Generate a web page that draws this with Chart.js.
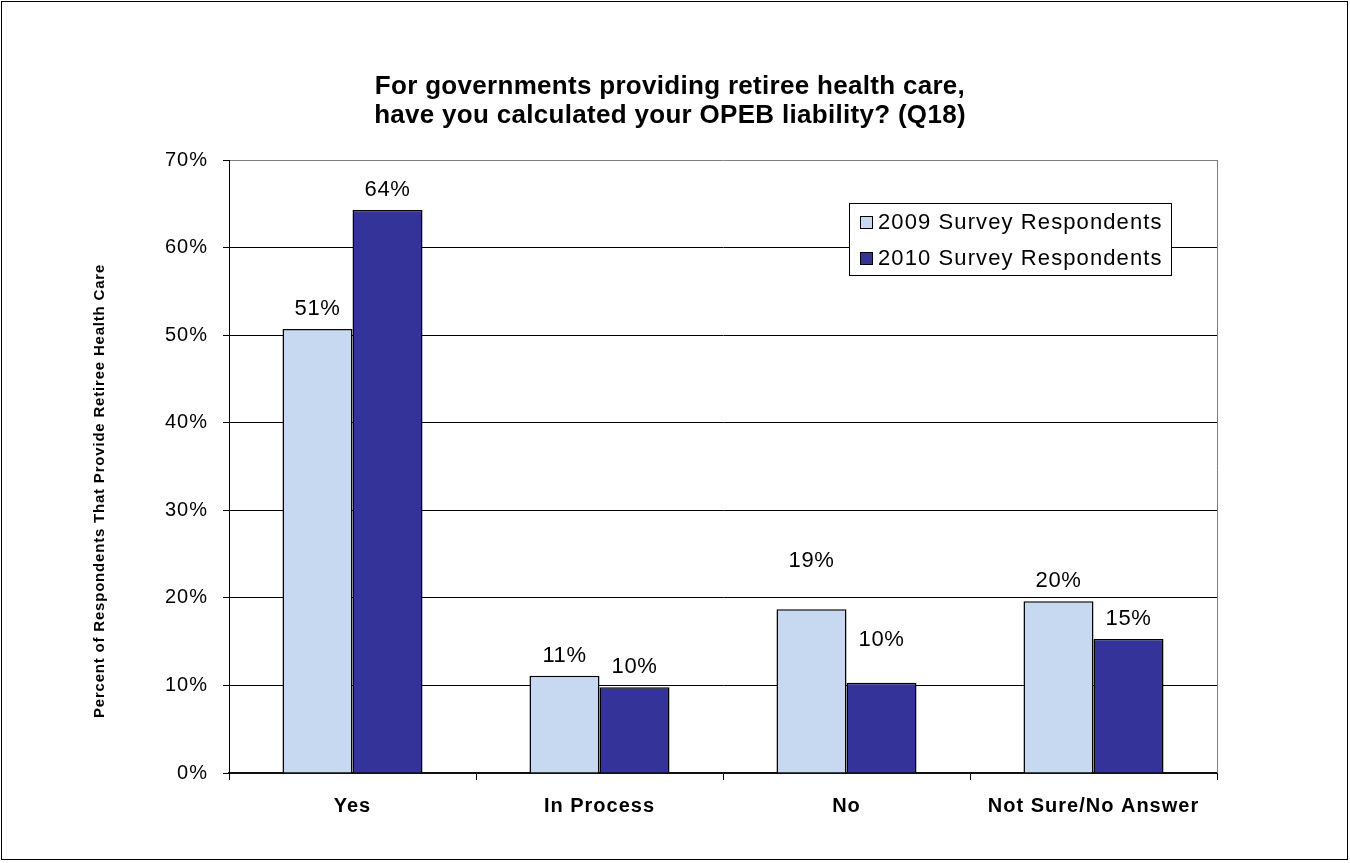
<!DOCTYPE html>
<html>
<head>
<meta charset="utf-8">
<script src="https://cdn.jsdelivr.net/npm/chart.js@4.4.1/dist/chart.umd.min.js"></script>
<style>
  html, body { margin: 0; padding: 0; background: #ffffff; }
  #wrap { width: 1350px; height: 863px; position: relative; }
  canvas { display: block; }
</style>
</head>
<body>
<div id="wrap"><canvas id="chart" width="1350" height="863"></canvas></div>
<script>
// Survey answers (percent of respondents that provide retiree health care)
const categories = ['Yes', 'In Process', 'No', 'Not Sure/No Answer'];
const series2009 = [50.7, 11.1, 18.7, 19.6];
const series2010 = [64.3, 9.8, 10.3, 15.3];
const seriesNames = ['2009 Survey Respondents', '2010 Survey Respondents'];
const yTickValues = [0, 10, 20, 30, 40, 50, 60, 70];
const titleLines = [
  'For governments providing retiree health care,',
  'have you calculated your OPEB liability? (Q18)'
];
const yAxisTitle = 'Percent of Respondents That Provide Retiree Health Care';

const FONT = '"Liberation Sans", Arial, Helvetica, sans-serif';
const COLORS = ['#C6D9F1', '#333399'];

// Draws the frame, title, axis title, legend box and value labels
const decorations = {
  id: 'decorations',
  beforeDraw(chart) {
    const ctx = chart.ctx;
    ctx.save();
    ctx.fillStyle = '#ffffff';
    ctx.fillRect(0, 0, chart.width, chart.height);
    ctx.restore();
    ctx.letterSpacing = '1px';
  },
  afterDraw(chart, args, opts) {
    const ctx = chart.ctx;
    const area = chart.chartArea;
    ctx.save();

    // plot area right edge
    ctx.strokeStyle = '#7f7f7f';
    ctx.lineWidth = 1;
    ctx.beginPath();
    ctx.moveTo(Math.round(area.right) + 0.5, area.top);
    ctx.lineTo(Math.round(area.right) + 0.5, area.bottom);
    ctx.stroke();

    // value labels above bars
    ctx.fillStyle = '#000';
    ctx.textAlign = 'center';
    ctx.textBaseline = 'middle';
    ctx.letterSpacing = '0.6px';
    ctx.font = '22px ' + FONT;
    chart.data.datasets.forEach((ds, di) => {
      const meta = chart.getDatasetMeta(di);
      meta.data.forEach((bar, i) => {
        const lift = (opts.lift[di] && opts.lift[di][i]) || 20;
        ctx.fillText(Math.round(ds.data[i]) + '%', bar.x, bar.y - lift);
      });
    });

    // chart title
    ctx.font = 'bold 26px ' + FONT;
    ctx.letterSpacing = '0.3px';
    ctx.fillText(titleLines[0], 670, 87);
    ctx.fillText(titleLines[1], 670, 116);

    // vertical axis title
    ctx.save();
    ctx.translate(100, 491);
    ctx.rotate(-Math.PI / 2);
    ctx.font = 'bold 15px ' + FONT;
    ctx.letterSpacing = '0.8px';
    ctx.fillText(yAxisTitle, 0, 0);
    ctx.restore();

    // legend box
    const lx = 849, ly = 203, lw = 322, lh = 72;
    ctx.fillStyle = '#ffffff';
    ctx.fillRect(lx, ly, lw, lh);
    ctx.strokeStyle = '#000';
    ctx.lineWidth = 1;
    ctx.strokeRect(lx + 0.5, ly + 0.5, lw, lh);
    ctx.textAlign = 'left';
    ctx.font = '22px ' + FONT;
    ctx.letterSpacing = '1.1px';
    chart.data.datasets.forEach((ds, di) => {
      const cy = 222 + di * 36;
      ctx.fillStyle = ds.backgroundColor;
      ctx.fillRect(860, cy - 6, 12, 12);
      ctx.strokeStyle = '#000';
      ctx.strokeRect(860.5, cy - 5.5, 12, 12);
      ctx.fillStyle = '#000';
      ctx.fillText(ds.label, 878, cy + 1);
    });

    // outer frame
    ctx.strokeStyle = '#000';
    ctx.lineWidth = 1;
    ctx.strokeRect(1.5, 1.5, 1346, 858);
    ctx.restore();
  }
};

new Chart(document.getElementById('chart'), {
  type: 'bar',
  data: {
    labels: categories,
    datasets: [
      { label: seriesNames[0], data: series2009, backgroundColor: COLORS[0], borderColor: '#000', borderWidth: 1.5 },
      { label: seriesNames[1], data: series2010, backgroundColor: COLORS[1], borderColor: '#000', borderWidth: 1.5 }
    ]
  },
  options: {
    responsive: false,
    animation: false,
    devicePixelRatio: 1,
    layout: { padding: { top: 160, left: 0, right: 133, bottom: 0 } },
    datasets: { bar: { barPercentage: 1, categoryPercentage: 0.567 } },
    plugins: {
      legend: { display: false },
      tooltip: { enabled: false },
      title: { display: false },
      decorations: { lift: [[20, 20, 48, 20], [20, 20, 43, 20]] }
    },
    scales: {
      x: {
        grid: { offset: true, drawOnChartArea: false, tickLength: 7, tickColor: '#000', lineWidth: 1 },
        border: { color: '#111', width: 2 },
        ticks: { color: '#000', padding: 14, font: { family: FONT, size: 20, weight: 'bold' } },
        afterFit(scale) { scale.height = 90; }
      },
      y: {
        min: 0,
        max: 70,
        afterBuildTicks(scale) { scale.ticks = yTickValues.map(v => ({ value: v })); },
        grid: {
          color: c => (c.tick && c.tick.value === 70) ? '#7f7f7f' : '#000',
          lineWidth: 1,
          tickLength: 6,
          tickColor: '#000'
        },
        border: { color: '#000', width: 1 },
        ticks: { color: '#000', padding: 15, font: { family: FONT, size: 20 }, callback: v => v + '%' },
        afterFit(scale) { scale.width = 229; }
      }
    }
  },
  plugins: [decorations]
});
</script>
</body>
</html>
